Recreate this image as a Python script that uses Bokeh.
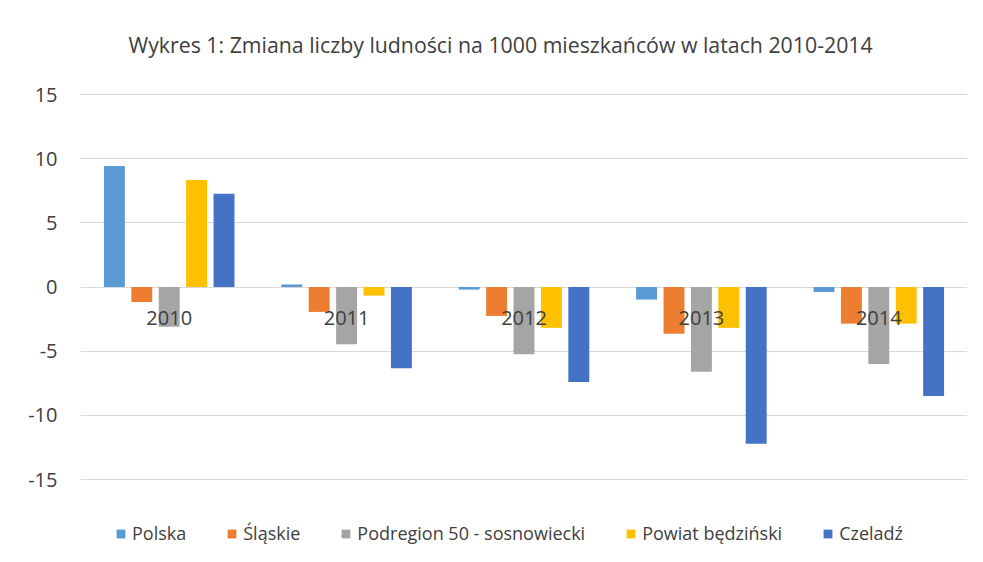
from bokeh.plotting import figure
from bokeh.models import FactorRange, Legend, LegendItem, FixedTicker, ColumnDataSource
from bokeh.core.properties import value
from bokeh.transform import dodge
from bokeh.embed import file_html
from bokeh.resources import INLINE

years = ["2010", "2011", "2012", "2013", "2014"]
series_names = ["Polska", "Śląskie", "Podregion 50 - sosnowiecki", "Powiat będziński", "Czeladź"]
polska = [9.43, 0.2, -0.2, -0.98, -0.39]
slaskie = [-1.17, -1.94, -2.25, -3.65, -2.85]
podregion = [-3.1, -4.45, -5.23, -6.6, -6.0]
powiat = [8.34, -0.67, -3.18, -3.18, -2.85]
czeladz = [7.26, -6.32, -7.4, -12.22, -8.49]
y_ticks = [-15, -10, -5, 0, 5, 10, 15]
y_tick_labels = ["-15", "-10", "-5", "0", "5", "10", "15"]

colors = ["#5B9BD5", "#ED7D31", "#A5A5A5", "#FFC000", "#4472C4"]
FONT = "Open Sans"

src = ColumnDataSource(data=dict(year=years, zero=[0] * len(years),
                                 s0=polska, s1=slaskie, s2=podregion, s3=powiat, s4=czeladz))

# value axis spans -15..15 in the grid; the frame is padded above/below to hold title gap and legend
p = figure(width=967, height=546, x_range=FactorRange(*years), y_range=(-20.22, 17.42),
           output_backend="svg", toolbar_location=None,
           title="Wykres 1: Zmiana liczby ludności na 1000 mieszkańców w latach 2010-2014")
p.min_border_left = 80
p.min_border_right = 0
p.min_border_top = 63
p.min_border_bottom = 0
p.outline_line_color = None

p.title.align = "left"
p.title.offset = 48
p.title.text_font = FONT
p.title.text_font_size = "21.3px"
p.title.text_font_style = "normal"
p.title.text_color = "#404040"

pitch = 0.1545
width = 0.118
renderers = []
for i in range(5):
    r = p.vbar(x=dodge("year", (i - 2) * pitch, range=p.x_range), top=f"s{i}", bottom=0,
               width=width, source=src, fill_color=colors[i], line_color=None)
    renderers.append(r)

# category labels drawn next to the zero line, as in the original
p.text(x="year", y="zero", text="year", source=src, y_offset=31,
       text_align="center", text_baseline="middle",
       text_font=value(FONT), text_font_size="20px", text_color="#404040")

p.xgrid.grid_line_color = None
p.ygrid.grid_line_color = "#D9D9D9"
p.ygrid.grid_line_width = 1

p.yaxis.ticker = FixedTicker(ticks=y_ticks)
p.yaxis.major_label_overrides = {t: l for t, l in zip(y_ticks, y_tick_labels)}
p.yaxis.axis_line_color = None
p.yaxis.major_tick_line_color = None
p.yaxis.minor_tick_line_color = None
p.yaxis.major_label_standoff = 17
p.yaxis.major_label_text_font = FONT
p.yaxis.major_label_text_font_size = "20px"
p.yaxis.major_label_text_color = "#404040"

p.xaxis.visible = False

legend = Legend(items=[LegendItem(label=series_names[i], renderers=[renderers[i]]) for i in range(5)],
                orientation="horizontal", location=(35, 1))
legend.label_text_font = FONT
legend.label_text_font_size = "18px"
legend.label_text_color = "#404040"
legend.glyph_width = 11
legend.glyph_height = 11
legend.label_standoff = 6
legend.spacing = 40
legend.border_line_color = None
legend.background_fill_alpha = 0
legend.padding = 0
legend.margin = 0
p.add_layout(legend, "center")

open("out.html", "w").write(file_html(p, INLINE))
